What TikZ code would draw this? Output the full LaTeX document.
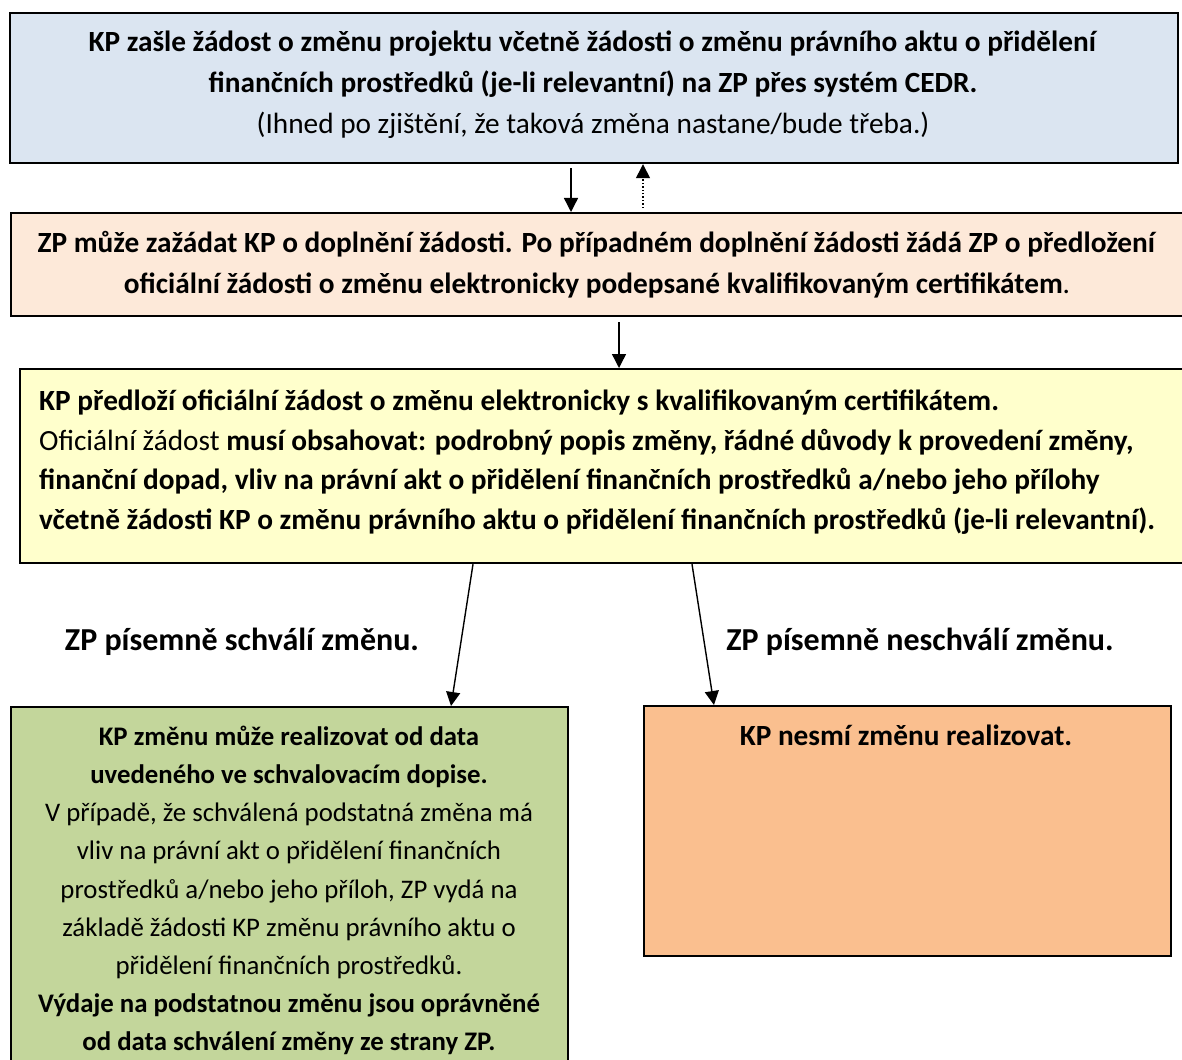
\documentclass[tikz,border=0pt]{standalone}
\usepackage{fontspec}
\setmainfont{Carlito}
\usetikzlibrary{arrows.meta}
\definecolor{cblue}{HTML}{DBE5F1}
\definecolor{cpeach}{HTML}{FDE9D9}
\definecolor{cyellow}{HTML}{FFFFCC}
\definecolor{cgreen}{HTML}{C3D69B}
\definecolor{corange}{HTML}{FABF8F}
\tikzset{
  box/.style={draw=black, line width=2.2pt, rectangle, inner sep=0pt, anchor=north west},
  txt/.style={inner sep=0pt, font={\fontsize{29.3}{41}\selectfont}},
  lbl/.style={inner sep=0pt, font={\fontsize{32}{41}\selectfont\bfseries}},
  arr/.style={line width=1.4pt, -{Triangle[length=14pt,width=14pt]}},
}
\begin{document}
\begin{tikzpicture}[x=1pt,y=-1pt]
\useasboundingbox (0,0) rectangle (1182,1059);
% boxes
\node[box, fill=cblue, minimum width=1168pt, minimum height=150pt] (b1) at (9,12) {};
\node[box, fill=cpeach, minimum width=1180pt, minimum height=103pt] (b2) at (10,212) {};
\node[box, fill=cyellow, minimum width=1180pt, minimum height=194pt] (b3) at (19,368) {};
\node[box, fill=cgreen, minimum width=557pt, minimum height=370pt] (b4) at (10,706) {};
\node[box, fill=corange, minimum width=527pt, minimum height=250pt] (b5) at (643,705) {};
% texts
\node[txt, align=center] (t1) at (593,85) {\textbf{KP zašle žádost o změnu projektu včetně žádosti o změnu právního aktu o přidělení}\\\textbf{finančních prostředků (je-li relevantní) na ZP přes systém CEDR.}\\(Ihned po zjištění, že taková změna nastane/bude třeba.)};
\node[txt, align=center] (t2) at (597,265) {\textbf{ZP může zažádat KP o doplnění žádosti. Po případném doplnění žádosti žádá ZP o předložení}\\\textbf{oficiální žádosti o změnu elektronicky podepsané kvalifikovaným certifikátem}.};
\node[txt, align=left, anchor=west, font={\fontsize{29.3}{39.5}\selectfont}] (t3) at (39,462) {\textbf{KP předloží oficiální žádost o změnu elektronicky s kvalifikovaným certifikátem.}\\Oficiální žádost \textbf{musí obsahovat: podrobný popis změny, řádné důvody k provedení změny,}\\\textbf{finanční dopad, vliv na právní akt o přidělení finančních prostředků a/nebo jeho přílohy}\\\textbf{včetně žádosti KP o změnu právního aktu o přidělení finančních prostředků (je-li relevantní).}};
\node[txt, align=center, anchor=north, font={\fontsize{26.8}{38.1}\selectfont}] (t4) at (289,726) {\textbf{KP změnu může realizovat od data}\\\textbf{uvedeného ve schvalovacím dopise.}\\V případě, že schválená podstatná změna má\\vliv na právní akt o přidělení finančních\\prostředků a/nebo jeho příloh, ZP vydá na\\základě žádosti KP změnu právního aktu o\\přidělení finančních prostředků.\\\textbf{Výdaje na podstatnou změnu jsou oprávněné}\\\textbf{od data schválení změny ze strany ZP.}};
\node[txt, font={\fontsize{29.3}{41}\selectfont\bfseries}] (t5) at (906,735) {KP nesmí změnu realizovat.};
\node[lbl] (l1) at (242,642) {ZP písemně schválí změnu.};
\node[lbl] (l2) at (920,642) {ZP písemně neschválí změnu.};
% connector x positions
\coordinate (xa) at (571,0);
\coordinate (xb) at (643,0);
\coordinate (xc) at (619,0);
\coordinate (xd) at (473,0);
\coordinate (xe) at (451,0);
\coordinate (xf) at (692,0);
\coordinate (xg) at (714,0);
% connectors
\draw[arr, shorten <=4pt] (b1.south -| xa) -- (b2.north -| xa);
\draw[arr, dotted, shorten <=4pt] (b2.north -| xb) -- (b1.south -| xb);
\draw[arr, shorten <=5pt] (b2.south -| xc) -- (b3.north -| xc);
\draw[arr] (b3.south -| xd) -- (b4.north -| xe);
\draw[arr] (b3.south -| xf) -- (b5.north -| xg);
\end{tikzpicture}
\end{document}
